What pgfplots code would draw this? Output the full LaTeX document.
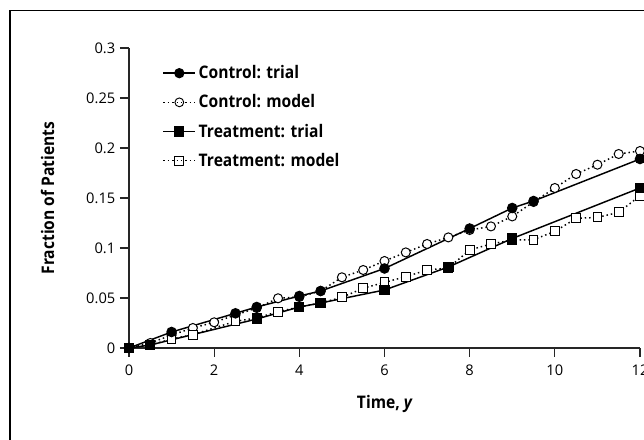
\documentclass[border=0pt]{standalone}
\usepackage{pgfplots}
\pgfplotsset{compat=1.18}
\usepackage{fontspec}
\setmainfont{Open Sans}
\newfontfamily\cb[FakeStretch=0.9]{Open Sans}
\begin{document}
\begin{tikzpicture}[x=0.75pt,y=0.75pt]
\useasboundingbox (0,0) rectangle (644,440);
\clip (0,0) rectangle (644,440);
\fill[white] (0,0) rectangle (644,440);
\draw[line width=0.9pt] (10,-20) rectangle (700,429.5);
\begin{axis}[
  at={(96.75pt,69pt)}, anchor=south west,
  scale only axis, width=383.25pt, height=225pt,
  xmin=0, xmax=12, ymin=0, ymax=0.3,
  axis lines=left, axis line style={-, line width=0.9pt, black!85},
  tick align=outside, major tick length=6.75pt,
  tick style={line width=0.9pt, black!85},
  xtick={0,2,4,6,8,10,12}, xticklabels={0,2,4,6,8,10,12},
  ytick={0,0.05,0.1,0.15,0.2,0.25,0.3},
  yticklabels={0,0.05,0.1,0.15,0.2,0.25,0.3},
  ticklabel style={font=\fontsize{11}{13}\selectfont},
  xticklabel style={yshift=-2.5pt},
  xlabel={\cb\bfseries Time, \itshape y},
  ylabel={\cb\bfseries Fraction of Patients},
  label style={font=\fontsize{13}{15}\selectfont},
  xlabel style={yshift=-8pt},
  ylabel style={yshift=17pt},
  clip=false,
  legend cell align=left,
  legend image code/.code={
    \draw[mark repeat=2,mark phase=2,#1] plot coordinates {(0pt,0pt)(12pt,0pt)(24pt,0pt)};},
  legend style={at={(rel axis cs:0,1)}, anchor=north west, xshift=22pt, yshift=-9pt,
    draw=none, fill=none, font=\cb\bfseries\fontsize{13}{15}\selectfont, row sep=6.5pt,
    /tikz/every odd column/.style={column sep=0pt}},
]
\addlegendimage{black, line width=1.1pt, mark=*, mark size=3.3pt}
\addlegendentry{Control: trial}
\addlegendimage{black, line width=1.1pt, dash pattern=on 1.1pt off 2.2pt, mark=o, mark size=3.3pt, mark options={solid, fill=white, line width=0.7pt}}
\addlegendentry{Control: model}
\addlegendimage{black, line width=1.1pt, mark=square*, mark size=3.3pt}
\addlegendentry{Treatment: trial}
\addlegendimage{black, line width=1.1pt, dash pattern=on 1.1pt off 2.2pt, mark=square, mark size=3.3pt, mark options={solid, fill=white, line width=0.7pt}}
\addlegendentry{Treatment: model}
% control model
\addplot[forget plot, black, line width=1.1pt, dash pattern=on 1.1pt off 2.2pt, mark=*, mark size=3.4pt, mark options={solid, fill=white, draw=black, line width=0.75pt}] coordinates {
(0,0) (0.5,0.005) (1,0.013) (1.5,0.020) (2,0.0257) (2.5,0.033) (3,0.040) (3.5,0.0497) (4,0.051) (4.5,0.057) (5,0.0707) (5.5,0.078) (6,0.087) (6.5,0.0956) (7,0.104) (7.5,0.1106) (8,0.118) (8.5,0.1216) (9,0.1316) (9.5,0.146) (10,0.160) (10.5,0.174) (11,0.1833) (11.5,0.194) (12,0.197)};
% treatment model
\addplot[forget plot, black, line width=1.1pt, dash pattern=on 1.1pt off 2.2pt, mark=square*, mark size=3.3pt, mark options={solid, fill=white, draw=black, line width=0.75pt}] coordinates {
(0,0) (0.5,0.003) (1,0.009) (1.5,0.0133) (2.5,0.0267) (3,0.030) (3.5,0.0363) (4,0.041) (4.5,0.045) (5,0.0507) (5.5,0.0597) (6,0.0656) (6.5,0.0713) (7,0.078) (7.5,0.080) (8,0.098) (8.5,0.104) (9,0.108) (9.5,0.1083) (10,0.1166) (10.5,0.1296) (11,0.1306) (11.5,0.1356) (12,0.1523)};
% control trial
\addplot[forget plot, black, line width=1.1pt, mark=*, mark size=3.4pt] coordinates {
(0,0) (1,0.016) (2.5,0.0347) (3,0.041) (4,0.052) (4.5,0.057) (6,0.0795) (8,0.1195) (9,0.140) (9.5,0.147) (12,0.189)};
% treatment trial
\addplot[forget plot, black, line width=1.1pt, mark=square*, mark size=3.3pt] coordinates {
(0,0) (0.5,0.003) (3,0.029) (4,0.041) (4.5,0.045) (6,0.058) (7.5,0.081) (9,0.1095) (12,0.160)};
\end{axis}
\end{tikzpicture}
\end{document}
